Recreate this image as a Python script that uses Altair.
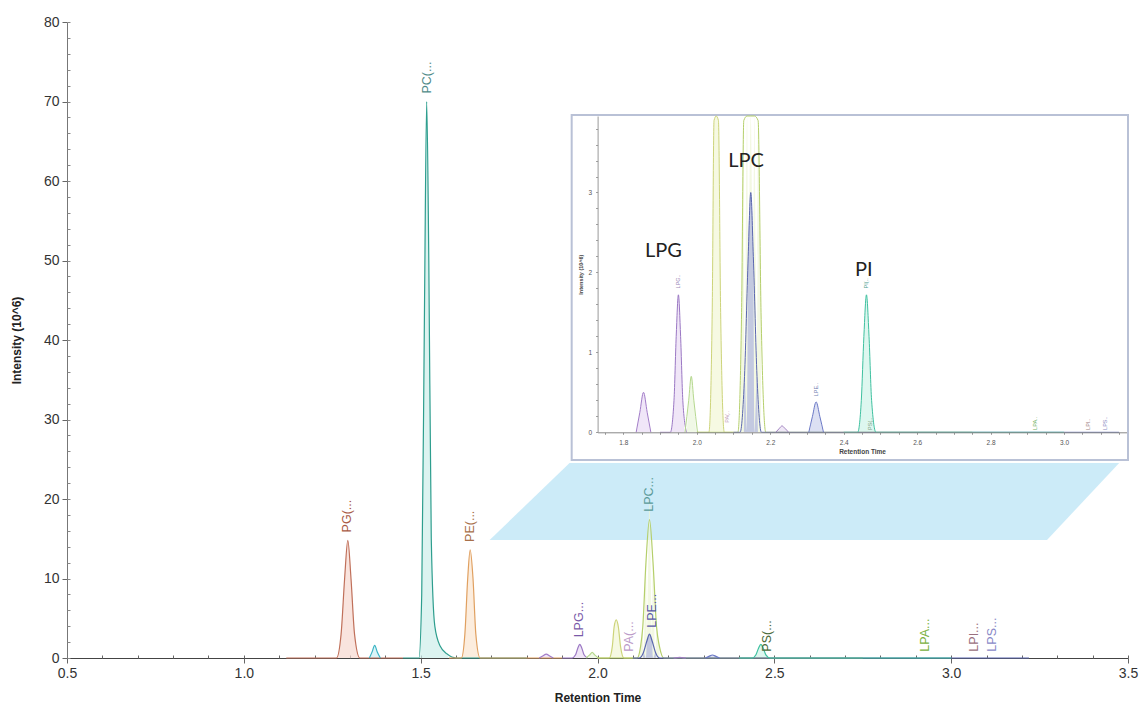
import altair as alt
import pandas as pd

# ---------------- data ----------------
# chromatogram traces: retention time (min) and intensity (10^6)
pg_t = [1.12, 1.262, 1.275, 1.285, 1.294, 1.303, 1.313, 1.328, 1.45]
pg_v = [0, 0, 3.0, 10.0, 14.8, 10.0, 3.0, 0, 0]
x137_t = [1.355, 1.363, 1.370, 1.377, 1.386]
x137_v = [0, 0.8, 1.6, 0.8, 0]
pc_t = [1.45, 1.495, 1.503, 1.511, 1.517, 1.523, 1.530, 1.540, 1.555, 1.575, 1.60, 1.80]
pc_v = [0, 0, 8.0, 45.0, 70.0, 50.0, 15.0, 4.0, 1.5, 0.5, 0, 0]
pe_t = [1.58, 1.615, 1.625, 1.633, 1.640, 1.648, 1.656, 1.668, 1.90]
pe_v = [0, 0, 3.0, 10.0, 13.6, 10.0, 3.0, 0, 0]
x185_t = [1.835, 1.845, 1.855, 1.865, 1.875]
x185_v = [0, 0.25, 0.5, 0.25, 0]
lpg_t = [1.90, 1.928, 1.938, 1.944, 1.950, 1.956, 1.962, 1.972]
lpg_v = [0, 0, 0.4, 1.2, 1.72, 1.2, 0.4, 0]
x198_t = [1.968, 1.978, 1.985, 1.992, 2.002]
x198_v = [0, 0.4, 0.7, 0.4, 0]
pa_t = [2.00, 2.033, 2.042, 2.047, 2.053, 2.059, 2.065, 2.075, 2.10]
pa_v = [0, 0, 1.5, 3.9, 4.8, 3.9, 1.5, 0, 0]
lpc_t = [2.00, 2.112, 2.122, 2.128, 2.137, 2.147, 2.157, 2.167, 2.175, 2.188, 2.75]
lpc_v = [0, 0, 1.5, 3.9, 12.0, 17.4, 12.0, 3.9, 1.5, 0, 0]
lpe_t = [2.10, 2.118, 2.130, 2.140, 2.147, 2.154, 2.164, 2.176, 3.15, 3.22]
lpe_v = [0, 0, 0.7, 2.2, 3.0, 2.2, 0.7, 0, 0, 0]
x223_t = [2.215, 2.225, 2.232, 2.240, 2.250]
x223_v = [0, 0.05, 0.08, 0.05, 0]
x232_t = [2.305, 2.315, 2.325, 2.335, 2.345]
x232_v = [0, 0.2, 0.38, 0.2, 0]
pi_t = [2.40, 2.438, 2.448, 2.455, 2.462, 2.469, 2.476, 2.488, 3.00]
pi_v = [0, 0, 0.4, 1.2, 1.72, 1.2, 0.4, 0, 0]

trace_names = ["01 PG", "02 x137", "03 PC", "04 PE", "05 x185", "06 LPG", "07 x198",
               "08 PA", "09 LPC", "10 LPE", "11 x223", "12 x232", "13 PI"]

# peak labels of the main chart (anchored at the bottom of the text)
main_labels = ["PG(...", "PC(...", "PE(...", "LPG...", "PA(...", "LPE...", "LPC...",
               "PS(...", "LPA...", "LPI...", "LPS..."]
main_label_t = [1.293, 1.517, 1.640, 1.949, 2.088, 2.153, 2.147, 2.480, 2.925, 3.065, 3.115]
main_label_v = [15.8, 71.0, 14.6, 2.6, 0.8, 3.8, 18.4, 0.8, 0.8, 0.8, 0.8]

# tiny peak labels of the inset
inset_labels = ["LPG..", "PA(..", "LPE..", "PI(..", "PS(..", "LPA..", "LPI..", "LPS.."]
inset_label_t = [1.950, 2.083, 2.325, 2.462, 2.472, 2.922, 3.065, 3.112]
inset_label_v = [1.80, 0.12, 0.45, 1.80, 0.03, 0.03, 0.03, 0.03]

# big annotations of the inset
annot_text = ["LPC", "LPG", "PI"]
annot_t = [2.134, 1.909, 2.455]
annot_v = [3.40, 2.27, 2.03]

# zoom band (parallelogram) in main-chart units
band_v = [14.84, 24.53]
band_t_left = [1.695, 1.921]
band_t_right = [3.271, 3.475]

# inset frame in main-chart units
frame_t = [1.927]
frame_t2 = [3.50]
frame_v = [24.9]
frame_v2 = [68.3]

# ---------------- styles ----------------
line_colors = ["#c0705a", "#3bb4c4", "#2e9e8e", "#e0a060", "#a27cc8", "#9b78c4", "#b5d88e",
               "#cdd47a", "#b5cf6b", "#5b67b0", "#a080c0", "#6a78c6", "#3fc1a0"]
fill_colors = ["#f6d8d0", "#cdeff4", "#cdeee9", "#fbe6d0", "#eadcf5", "#eadcf3", "#e9f5dc",
               "#f2f6d6", "#eef5d6", "#aab2d3", "#eadff3", "#cdd3ee", "#cff3e8"]
main_label_colors = ["#a85a45", "#4f8a88", "#a8704a", "#7a5aa8", "#bb9ac8", "#5a5aa8",
                     "#5a9a98", "#4a6a3a", "#78b040", "#9a7080", "#8a8ac8"]
inset_label_colors = ["#9a88b8", "#c0a0b8", "#7080b0", "#50a090", "#80a080", "#70b060",
                      "#a08080", "#8888c0"]

W, H = 1061, 636
X_DOM, Y_DOM = [0.5, 3.5], [0, 80]
IX_DOM, IY_DOM = [1.73, 3.17], [0, 3.957]
IX_RANGE, IY_RANGE = [530.6, 1059.5], [410.3, 94.0]

# ---------------- tables ----------------
series = [pg_t, pg_v, x137_t, x137_v, pc_t, pc_v, pe_t, pe_v, x185_t, x185_v, lpg_t, lpg_v,
          x198_t, x198_v, pa_t, pa_v, lpc_t, lpc_v, lpe_t, lpe_v, x223_t, x223_v,
          x232_t, x232_v, pi_t, pi_v]
rows = []
for i, name in enumerate(trace_names):
    for t, v in zip(series[2 * i], series[2 * i + 1]):
        rows.append({"trace": name, "t": t, "v": v})
df = pd.DataFrame(rows)
df_lab = pd.DataFrame({"label": main_labels, "t": main_label_t, "v": main_label_v})
df_ilab = pd.DataFrame({"label": inset_labels, "t": inset_label_t, "v": inset_label_v})
df_ann = pd.DataFrame({"label": annot_text, "t": annot_t, "v": annot_v})
df_band = pd.DataFrame({"v": band_v, "tl": band_t_left, "tr": band_t_right})
df_frame = pd.DataFrame({"t": frame_t, "t2": frame_t2, "v": frame_v, "v2": frame_v2})

# ---------------- main chart ----------------
xs = alt.Scale(domain=X_DOM, nice=False, zero=False)
ys = alt.Scale(domain=Y_DOM, nice=False, zero=False)
x_axis = alt.Axis(values=[0.5, 1.0, 1.5, 2.0, 2.5, 3.0, 3.5], format=".1f", grid=False,
                  tickSize=5, tickColor="#666", domainColor="#444", labelFontSize=14,
                  labelColor="#333", labelFont="Liberation Sans", labelPadding=3,
                  labelFlush=False, titleFont="Liberation Sans", titleFontSize=12,
                  titleFontWeight="bold", titleColor="#222", titlePadding=12)
y_axis = alt.Axis(values=list(range(0, 81, 10)), grid=False, tickSize=5, tickColor="#666",
                  domainColor="#777", labelFontSize=14, labelColor="#333",
                  labelFont="Liberation Sans", labelPadding=3, titleFont="Liberation Sans",
                  titleFontSize=12, titleFontWeight="bold", titleColor="#222", titlePadding=20)


def mx(field):
    return alt.X(field, type="quantitative", scale=xs, axis=x_axis, title="Retention Time")


def my(field):
    return alt.Y(field, type="quantitative", scale=ys, axis=y_axis, title="Intensity (10^6)")


fill_scale = alt.Scale(domain=trace_names, range=fill_colors)
stroke_scale = alt.Scale(domain=trace_names, range=line_colors)

band = alt.Chart(df_band).mark_area(orient="horizontal", color="#c9eaf8", opacity=0.95).encode(
    y=my("v"), x=mx("tl"), x2="tr")
frame = alt.Chart(df_frame).mark_rect(fill="white", stroke="#b9c1d6", strokeWidth=2).encode(
    x=mx("t"), x2="t2", y=my("v"), y2="v2")
m_area = alt.Chart(df).mark_area(interpolate="monotone", fillOpacity=0.7).encode(
    x=mx("t"), y=my("v"),
    fill=alt.Fill("trace:N", scale=fill_scale, legend=None))
m_line = alt.Chart(df).mark_line(interpolate="monotone", strokeWidth=1.2).encode(
    x=mx("t"), y=my("v"),
    stroke=alt.Stroke("trace:N", scale=stroke_scale, legend=None))
m_text = alt.Chart(df_lab).mark_text(angle=270, align="left", baseline="middle", fontSize=12.5,
                                     font="Liberation Sans").encode(
    x=mx("t"), y=my("v"), text="label:N",
    color=alt.Color("label:N", scale=alt.Scale(domain=main_labels, range=main_label_colors),
                    legend=None))
main = alt.layer(band, frame, m_area, m_line, m_text)

# minor ticks pointing into the plot
minor = alt.Chart(df).mark_point(opacity=0).encode(
    x=alt.X("t:Q", scale=xs, axis=alt.Axis(orient="top", offset=-H,
            values=[round(0.5 + 0.1 * i, 2) for i in range(31)], labels=False, domain=False,
            grid=False, tickSize=3, tickColor="#666", title=None)),
    y=alt.Y("v:Q", scale=ys, axis=alt.Axis(orient="right", offset=-W,
            values=list(range(0, 81, 2)), labels=False, domain=False, grid=False,
            tickSize=3, tickColor="#888", title=None)))

# ---------------- inset ----------------
ixs = alt.Scale(domain=IX_DOM, range=IX_RANGE, nice=False, zero=False)
iys = alt.Scale(domain=IY_DOM, range=IY_RANGE, nice=False, zero=False, clamp=True)
ix_axis = alt.Axis(orient="bottom", offset=-(H - IY_RANGE[0]), zindex=1,
                   values=[round(1.75 + 0.05 * i, 2) for i in range(29)],
                   labelExpr="abs(datum.value*5 - round(datum.value*5)) < 0.001 ? format(datum.value, '.1f') : ''",
                   labelOverlap=False, labelFlush=False, grid=False, tickSize=2,
                   tickColor="#999", domainColor="#888", labelFontSize=6.5, labelColor="#555",
                   labelPadding=5, titleFontSize=6.5, titleFontWeight="bold", titleColor="#444",
                   titlePadding=3)
iy_axis = alt.Axis(orient="left", offset=-IX_RANGE[0], zindex=1,
                   values=[round(0.2 * i, 1) for i in range(20)],
                   labelExpr="abs(datum.value - round(datum.value)) < 0.001 ? format(datum.value, 'd') : ''",
                   labelOverlap=False, labelFlush=False, grid=False, tickSize=2,
                   tickColor="#999", domainColor="#999", labelFontSize=6.5, labelColor="#555",
                   labelPadding=4, titleFontSize=5.5, titleFontWeight="bold", titleColor="#444",
                   titlePadding=4)


def ix(field):
    return alt.X(field, type="quantitative", scale=ixs, axis=ix_axis, title="Retention Time")


def iy(field):
    return alt.Y(field, type="quantitative", scale=iys, axis=iy_axis, title="Intensity (10^6)")


inset_base = alt.Chart(df).transform_filter(
    (alt.datum.t >= IX_DOM[0]) & (alt.datum.t <= IX_DOM[1]))
i_area = inset_base.mark_area(interpolate="monotone", fillOpacity=0.7).encode(
    x=ix("t"), y=iy("v"), fill=alt.Fill("trace:N", scale=fill_scale, legend=None))
i_line = inset_base.mark_line(interpolate="monotone", strokeWidth=1.0).encode(
    x=ix("t"), y=iy("v"), stroke=alt.Stroke("trace:N", scale=stroke_scale, legend=None))
i_text = alt.Chart(df_ilab).mark_text(angle=270, align="left", baseline="middle",
                                      fontSize=5.5, font="Liberation Sans").encode(
    x=ix("t"), y=iy("v"), text="label:N",
    color=alt.Color("label:N", scale=alt.Scale(domain=inset_labels, range=inset_label_colors),
                    legend=None))
i_ann = alt.Chart(df_ann).mark_text(fontSize=20, font="Lato", color="#222",
                                    baseline="middle", align="center").encode(
    x=ix("t"), y=iy("v"), text="label:N")
inset = alt.layer(i_area, i_line, i_text, i_ann)

chart = alt.layer(main, minor, inset).resolve_scale(
    x="independent", y="independent", color="independent"
).properties(
    width=W, height=H,
    autosize=alt.AutoSizeParams(type="none"),
    padding={"left": 67, "top": 22, "right": 15, "bottom": 50},
    background="white",
).configure_view(stroke=None)

chart.save("out.html", embed_options={"renderer": "svg", "actions": False})
